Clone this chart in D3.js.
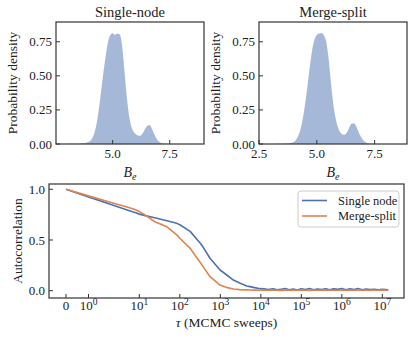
<!DOCTYPE html>
<html>
<head>
<meta charset="utf-8">
<script src="https://cdn.jsdelivr.net/npm/d3@7"></script>
<style>
  body { margin: 0; background: #fff; }
  text { font-family: "Times New Roman", Times, "Liberation Serif", Tinos, "DejaVu Serif", serif; }
</style>
</head>
<body>
<div id="chart"></div>
<script>
(function() {
  var width = 416,
      height = 341;

  // B_e grid for the two density panels
  const bGrid = [3.0, 3.2, 3.4, 3.6, 3.8, 4.0, 4.1, 4.2, 4.3, 4.4, 4.5, 4.6, 4.7, 4.8, 4.9,
                 5.0, 5.1, 5.2, 5.3, 5.4, 5.5, 5.6, 5.7, 5.8, 5.9, 6.0, 6.1, 6.2, 6.3, 6.4,
                 6.5, 6.6, 6.7, 6.8, 6.9, 7.0, 7.1, 7.2, 7.3, 7.4, 7.6];
  const singleNodeDensity = [0, 0.001, 0.002, 0.004, 0.008, 0.02, 0.04, 0.08, 0.15, 0.26, 0.39,
                 0.53, 0.65, 0.75, 0.80, 0.812, 0.80, 0.81, 0.805, 0.74, 0.57, 0.38, 0.23, 0.14,
                 0.095, 0.075, 0.063, 0.06, 0.075, 0.105, 0.13, 0.14, 0.12, 0.08, 0.045, 0.022,
                 0.01, 0.004, 0.0015, 0.0005, 0];
  const mergeSplitDensity = [0, 0.0005, 0.001, 0.003, 0.006, 0.015, 0.03, 0.06, 0.11, 0.19, 0.30,
                 0.43, 0.57, 0.69, 0.765, 0.80, 0.81, 0.815, 0.80, 0.755, 0.64, 0.47, 0.31, 0.20,
                 0.13, 0.09, 0.072, 0.068, 0.085, 0.12, 0.148, 0.152, 0.13, 0.09, 0.055, 0.03,
                 0.014, 0.006, 0.0025, 0.001, 0];
  const densityYTicks = [0, 0.25, 0.5, 0.75];
  const densityXTicks = [2.5, 5.0, 7.5];

  // autocorrelation vs lag tau
  const tau = [0, 1, 2, 3.3, 5, 7.8, 10, 14, 24, 32, 48, 84, 100, 180, 316, 375, 557, 984, 1500,
               2100, 3000, 4480, 5410, 7000, 9550, 1.2e4, 1.5e4, 2e4, 2.5e4, 3.2e4, 4e4, 5e4,
               6.3e4, 8e4, 1e5, 1.26e5, 1.6e5, 2e5, 2.5e5, 3.2e5, 4e5, 5e5, 6.3e5, 8e5, 1e6,
               1.26e6, 1.6e6, 2e6, 2.5e6, 3.2e6, 4e6, 5e6, 6.3e6, 8e6, 1e7, 1.4e7];
  const singleNodeAC = [1.0, 0.925, 0.85, 0.82, 0.795, 0.77, 0.755, 0.74, 0.72, 0.707, 0.69, 0.664,
               0.65, 0.585, 0.47, 0.43, 0.32, 0.204, 0.15, 0.105, 0.075, 0.046, 0.04, 0.03, 0.02,
               0.018, 0.012, 0.02, 0.008, 0.015, 0.022, 0.01, 0.016, 0.006, 0.019, 0.012, 0.021,
               0.009, 0.017, 0.011, 0.02, 0.008, 0.018, 0.013, 0.022, 0.01, 0.019, 0.012, 0.021,
               0.009, 0.017, 0.011, 0.015, 0.008, 0.014, 0.01];
  const mergeSplitAC = [1.0, 0.935, 0.87, 0.845, 0.825, 0.80, 0.78, 0.746, 0.68, 0.66, 0.63, 0.55,
               0.517, 0.418, 0.28, 0.237, 0.138, 0.056, 0.03, 0.017, 0.011, 0.008, 0.007, 0.006,
               0.005, 0.006, 0.004, 0.007, 0.005, 0.003, 0.006, 0.005, 0.007, 0.004, 0.006, 0.005,
               0.003, 0.006, 0.005, 0.007, 0.004, 0.006, 0.005, 0.004, 0.007, 0.005, 0.006, 0.004,
               0.006, 0.005, 0.007, 0.004, 0.006, 0.005, 0.006, 0.005];
  const acYTicks = [0, 0.5, 1.0];
  const acXTicks = [0, 1, 10, 100, 1e3, 1e4, 1e5, 1e6, 1e7];

  const blue = "#4C72B0", orange = "#DD8452", spine = "#333";

  const svg = d3.select("#chart").append("svg")
                .attr("width", width)
                .attr("height", height);

  // ---- density panels ----
  function densityPanel(box, xDomain, values, title) {
    const x = d3.scaleLinear().domain(xDomain).range([box.left, box.right]);
    const y = d3.scaleLinear().domain([0, 0.895]).range([box.bottom, box.top]);
    const g = svg.append("g").attr("fill", "#222");
    const pts = bGrid.map((b, i) => ({ b: b, d: values[i] }));

    g.append("path")
     .datum(pts)
     .attr("d", d3.area().x(d => x(d.b)).y0(y(0)).y1(d => y(d.d)).curve(d3.curveMonotoneX))
     .attr("fill", blue)
     .attr("fill-opacity", 0.5);

    g.append("rect")
     .attr("x", box.left).attr("y", box.top)
     .attr("width", box.right - box.left).attr("height", box.bottom - box.top)
     .attr("fill", "none").attr("stroke", spine).attr("stroke-width", 1.2);

    // y ticks (inward)
    densityYTicks.forEach(t => {
      g.append("line").attr("x1", box.left).attr("x2", box.left + 4)
       .attr("y1", y(t)).attr("y2", y(t)).attr("stroke", spine);
      g.append("text").attr("x", box.left - 4).attr("y", y(t)).attr("dy", "0.35em")
       .attr("text-anchor", "end").attr("font-size", 13).text(d3.format(".2f")(t));
    });
    // x ticks (inward)
    densityXTicks.filter(t => t >= xDomain[0] && t <= xDomain[1]).forEach(t => {
      g.append("line").attr("x1", x(t)).attr("x2", x(t))
       .attr("y1", box.bottom).attr("y2", box.bottom - 4).attr("stroke", spine);
      g.append("text").attr("x", x(t)).attr("y", box.bottom + 14)
       .attr("text-anchor", "middle").attr("font-size", 13).text(d3.format(".1f")(t));
    });

    g.append("text").attr("x", (box.left + box.right) / 2).attr("y", 16.5)
     .attr("text-anchor", "middle").attr("font-size", 14.5).text(title);

    g.append("text")
     .attr("transform", `translate(${box.left - 39},${(box.top + box.bottom) / 2}) rotate(-90)`)
     .attr("text-anchor", "middle").attr("font-size", 13.5).text("Probability density");

    const xl = g.append("text").attr("x", (box.left + box.right) / 2).attr("y", 176.5)
                .attr("text-anchor", "middle").attr("font-size", 14).attr("font-style", "italic");
    xl.append("tspan").text("B");
    xl.append("tspan").attr("dy", 3).attr("font-size", 10).text("e");
  }

  densityPanel({ left: 56, right: 204, top: 22, bottom: 144 }, [2.52, 9.0], singleNodeDensity, "Single-node");
  densityPanel({ left: 259, right: 407, top: 22, bottom: 144 }, [2.5, 8.9], mergeSplitDensity, "Merge-split");

  // ---- autocorrelation panel (symlog x, linthresh 2) ----
  const linthresh = 2, linscaleAdj = 1 / (1 - 1 / 10);
  function symlog(v) {
    return v <= linthresh ? v * linscaleAdj : linthresh * (linscaleAdj + Math.log10(v / linthresh));
  }
  const box = { left: 49, right: 404, top: 184, bottom: 298 };
  const xB = d3.scaleLinear().domain([-0.84, 16.69]).range([box.left, box.right]);
  const yB = d3.scaleLinear().domain([-0.072, 1.052]).range([box.bottom, box.top]);
  const gB = svg.append("g").attr("fill", "#222");

  const line = d3.line().x(d => xB(symlog(d.t))).y(d => yB(d.v));
  const series = [
    { name: "Single node", color: blue, values: singleNodeAC },
    { name: "Merge-split", color: orange, values: mergeSplitAC }
  ];
  series.forEach(s => {
    gB.append("path")
      .datum(tau.map((t, i) => ({ t: t, v: s.values[i] })))
      .attr("d", line)
      .attr("fill", "none")
      .attr("stroke", s.color)
      .attr("stroke-width", 1.6)
      .attr("stroke-linejoin", "round");
  });

  gB.append("rect")
    .attr("x", box.left).attr("y", box.top)
    .attr("width", box.right - box.left).attr("height", box.bottom - box.top)
    .attr("fill", "none").attr("stroke", spine).attr("stroke-width", 1.2);

  acYTicks.forEach(t => {
    gB.append("line").attr("x1", box.left).attr("x2", box.left + 4)
      .attr("y1", yB(t)).attr("y2", yB(t)).attr("stroke", spine);
    gB.append("text").attr("x", box.left - 4).attr("y", yB(t)).attr("dy", "0.35em")
      .attr("text-anchor", "end").attr("font-size", 13).text(d3.format(".1f")(t));
  });
  acXTicks.forEach(t => {
    const px = xB(symlog(t));
    gB.append("line").attr("x1", px).attr("x2", px)
      .attr("y1", box.bottom).attr("y2", box.bottom - 4).attr("stroke", spine);
    const lab = gB.append("text").attr("x", px).attr("y", 310)
                  .attr("text-anchor", "middle").attr("font-size", 13);
    if (t === 0) {
      lab.text("0");
    } else {
      lab.append("tspan").text("10");
      lab.append("tspan").attr("dy", -5).attr("font-size", 9.5).text(Math.round(Math.log10(t)));
    }
  });

  gB.append("text")
    .attr("transform", `translate(21.5,${(box.top + box.bottom) / 2}) rotate(-90)`)
    .attr("text-anchor", "middle").attr("font-size", 13.5).text("Autocorrelation");

  const xlab = gB.append("text").attr("x", (box.left + box.right) / 2).attr("y", 327)
                 .attr("text-anchor", "middle").attr("font-size", 13.5);
  xlab.append("tspan").attr("font-style", "italic").text("τ");
  xlab.append("tspan").text(" (MCMC sweeps)");

  // legend
  const lg = gB.append("g");
  lg.append("rect").attr("x", 298).attr("y", 191).attr("width", 101).attr("height", 36)
    .attr("rx", 3).attr("fill", "#fff").attr("fill-opacity", 0.8)
    .attr("stroke", "#ccc").attr("stroke-width", 1);
  series.forEach((s, i) => {
    const ly = 200.5 + i * 15.5;
    lg.append("line").attr("x1", 302).attr("x2", 327).attr("y1", ly).attr("y2", ly)
      .attr("stroke", s.color).attr("stroke-width", 1.6);
    lg.append("text").attr("x", 338).attr("y", ly + 4).attr("font-size", 12.5).text(s.name);
  });
})();
</script>
</body>
</html>
